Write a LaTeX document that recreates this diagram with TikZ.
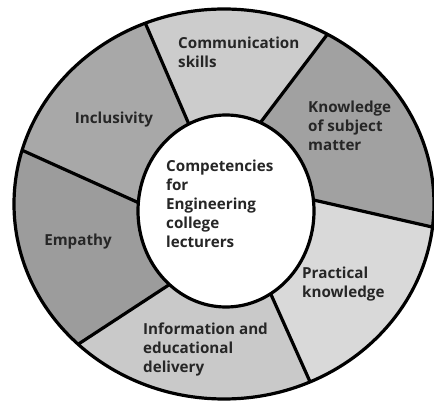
\documentclass[tikz,border=0pt]{standalone}
\usepackage{fontspec}
\setmainfont{Open Sans}
\usetikzlibrary{calc}

\definecolor{inkgray}{gray}{0.15}
\definecolor{commfill}{gray}{0.80}
\definecolor{knowfill}{gray}{0.63}
\definecolor{pracfill}{gray}{0.85}
\definecolor{infofill}{gray}{0.79}
\definecolor{empfill}{gray}{0.61}
\definecolor{inclfill}{gray}{0.66}

\tikzset{
  rim/.style={draw=black,line width=3.2pt},
  skilltext/.style={inner sep=0pt,align=left,text=inkgray,
    font=\bfseries\fontsize{15.2}{19}\selectfont}
}

\begin{document}
\begin{tikzpicture}[x=1pt,y=1pt]
\useasboundingbox (-224,-200) rectangle (210,204);

\coordinate (hub) at (2,-7);
\coordinate (o1) at (112:210 and 195);
\coordinate (o2) at (60.5:210 and 195);
\coordinate (o3) at (-6.8:210 and 195);
\coordinate (o4) at (-65.8:210 and 195);
\coordinate (o5) at (-134:210 and 195);
\coordinate (o6) at (164:210 and 195);
\coordinate (i1) at ($(hub)+(115:88 and 96)$);
\coordinate (i2) at ($(hub)+(67:88 and 96)$);
\coordinate (i3) at ($(hub)+(6.6:88 and 96)$);
\coordinate (i4) at ($(hub)+(-59.5:88 and 96)$);
\coordinate (i5) at ($(hub)+(-130:88 and 96)$);
\coordinate (i6) at ($(hub)+(175:88 and 96)$);

\fill[commfill] (hub) -- (i1) -- (o1) arc[start angle=112,end angle=60.5,x radius=210,y radius=195] -- (i2) -- cycle;
\fill[knowfill] (hub) -- (i2) -- (o2) arc[start angle=60.5,end angle=-6.8,x radius=210,y radius=195] -- (i3) -- cycle;
\fill[pracfill] (hub) -- (i3) -- (o3) arc[start angle=-6.8,end angle=-65.8,x radius=210,y radius=195] -- (i4) -- cycle;
\fill[infofill] (hub) -- (i4) -- (o4) arc[start angle=-65.8,end angle=-134,x radius=210,y radius=195] -- (i5) -- cycle;
\fill[empfill] (hub) -- (i5) -- (o5) arc[start angle=-134,end angle=-196,x radius=210,y radius=195] -- (i6) -- cycle;
\fill[inclfill] (hub) -- (i6) -- (o6) arc[start angle=164,end angle=112,x radius=210,y radius=195] -- (i1) -- cycle;

\draw[rim] (i1) -- (o1);
\draw[rim] (i2) -- (o2);
\draw[rim] (i3) -- (o3);
\draw[rim] (i4) -- (o4);
\draw[rim] (i5) -- (o5);
\draw[rim] (i6) -- (o6);
\draw[rim] (0,0) ellipse[x radius=210,y radius=195];
\draw[rim,fill=white] (hub) ellipse[x radius=88,y radius=96];

\node[skilltext,anchor=west] (core) at (-58,0) {Competencies\\for\\Engineering\\college\\lecturers};
\node[skilltext,anchor=west] (comm) at (-46,152) {Communication\\skills};
\node[skilltext,anchor=west] (know) at (84,78) {Knowledge\\of subject\\matter};
\node[skilltext,anchor=west] (prac) at (78,-80.5) {Practical\\knowledge};
\node[skilltext,anchor=west] (info) at (-81,-146) {Information and\\educational\\delivery};
\node[skilltext] (emp) at (-146,-38) {Empathy};
\node[skilltext] (incl) at (-110,84) {Inclusivity};
\end{tikzpicture}
\end{document}
